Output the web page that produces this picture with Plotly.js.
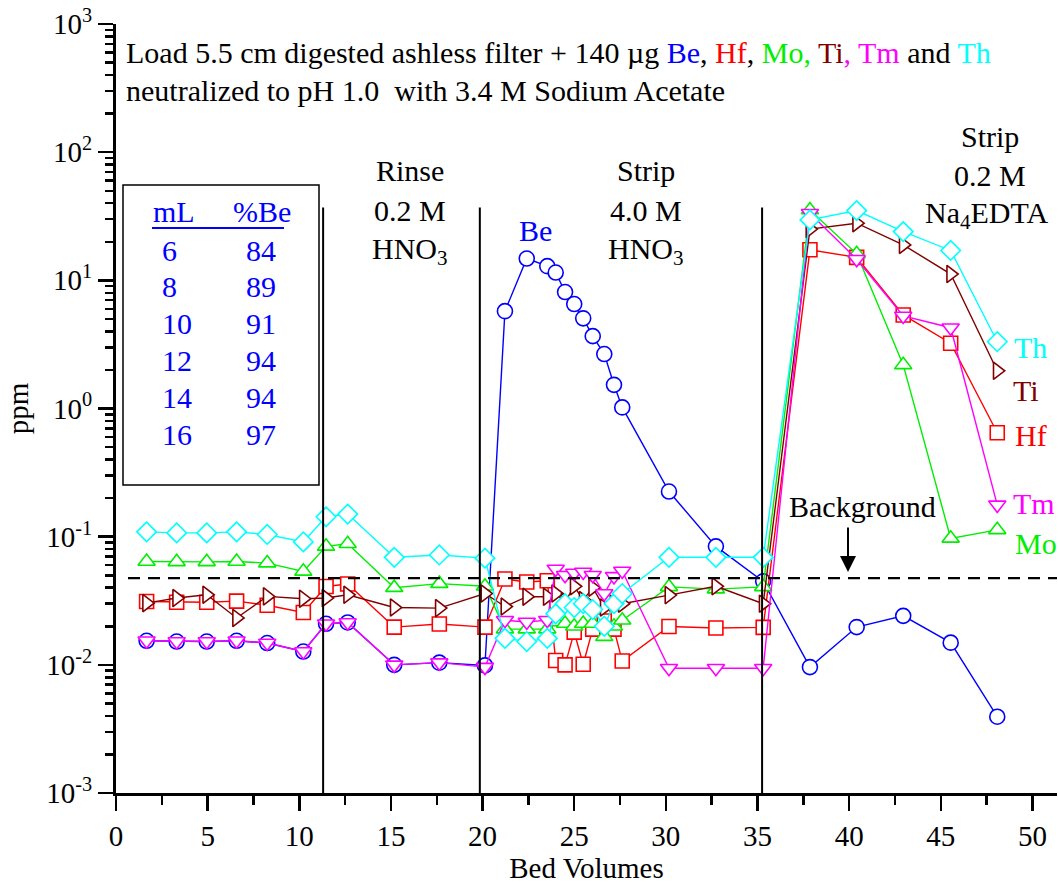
<!DOCTYPE html>
<html><head><meta charset="utf-8">
<script src="https://cdn.plot.ly/plotly-3.0.1.min.js"></script>
<style>html,body{margin:0;padding:0;background:#fff}#chart{width:1058px;height:884px}</style>
</head><body><div id="chart"></div>
<script>
// ---- data ----
const bedVolumes = [1.67, 3.31, 4.95, 6.58, 8.25, 10.22, 11.46, 12.64, 15.18, 17.64, 20.13,
  21.22, 22.41, 23.53, 23.99, 24.50, 25.00, 25.49, 26.01, 26.64, 27.17, 27.62,
  30.17, 32.73, 35.31, 37.86, 40.41, 42.95, 45.54, 48.08];
const be = [0.0154, 0.0152, 0.0152, 0.0154, 0.0148, 0.0127, 0.0209, 0.0214, 0.0100, 0.0104, 0.0099,
  5.75, 14.8, 12.9, 11.5, 8.1, 6.53, 5.05, 3.67, 2.66, 1.53, 1.02,
  0.225, 0.084, 0.0448, 0.0096, 0.0197, 0.0241, 0.0149, 0.00394];
const hf = [0.0312, 0.0308, 0.0308, 0.0314, 0.0292, 0.0256, 0.0409, 0.0427, 0.0197, 0.0208, 0.0197,
  0.0467, 0.0443, 0.0453, 0.0108, 0.0100, 0.0180, 0.0101, 0.0190, 0.0220, 0.0190, 0.0107,
  0.0199, 0.0194, 0.0196, 17.3, 15.1, 5.37, 3.23, 0.647];
const mo = [0.0640, 0.0636, 0.0636, 0.0640, 0.0622, 0.0536, 0.0840, 0.0880, 0.0400, 0.0430, 0.0410,
  0.0190, 0.0190, 0.0190, 0.0216, 0.0210, 0.0200, 0.0210, 0.0210, 0.0166, 0.0200, 0.0223,
  0.0406, 0.0390, 0.0406, 35.4, 16.1, 2.19, 0.097, 0.113];
const ti = [0.0303, 0.0332, 0.0352, 0.0232, 0.0342, 0.0328, 0.0332, 0.0352, 0.0280, 0.0277, 0.0360,
  0.0285, 0.0340, 0.0340, 0.0360, 0.0310, 0.0410, 0.0320, 0.0400, 0.0280, 0.0300, 0.0300,
  0.0350, 0.0410, 0.0300, 25.1, 27.9, 18.9, 11.2, 1.97];
const tm = [0.0154, 0.0152, 0.0152, 0.0154, 0.0148, 0.0127, 0.0209, 0.0214, 0.0100, 0.0104, 0.0096,
  0.0223, 0.0216, 0.0223, 0.0560, 0.0500, 0.0520, 0.0530, 0.0500, 0.0360, 0.0490, 0.0540,
  0.0094, 0.0094, 0.0094, 33.4, 14.6, 5.27, 4.27, 0.177];
const th = [0.109, 0.107, 0.107, 0.109, 0.104, 0.091, 0.143, 0.150, 0.069, 0.072, 0.068,
  0.0161, 0.0152, 0.0161, 0.0250, 0.0300, 0.0280, 0.0300, 0.0270, 0.0200, 0.0300, 0.0360,
  0.069, 0.069, 0.069, 29.6, 35.0, 24.0, 17.1, 3.32];
const seriesNames = ['Be', 'Hf', 'Mo', 'Ti', 'Tm', 'Th'];
const seriesValues = [be, hf, mo, ti, tm, th];
const xTickVals = [0, 5, 10, 15, 20, 25, 30, 35, 40, 45, 50];
const yTickVals = [0.001, 0.01, 0.1, 1, 10, 100, 1000];
const yTickText = ['10<sup>-3</sup>', '10<sup>-2</sup>', '10<sup>-1</sup>', '10<sup>0</sup>', '10<sup>1</sup>', '10<sup>2</sup>', '10<sup>3</sup>'];
const regionBoundaries = [11.3, 19.85, 35.25];
const boundaryTop = 37;
const backgroundLevel = 0.0475;
const tableML = [6, 8, 10, 12, 14, 16];
const tablePctBe = [84, 89, 91, 94, 94, 97];

// ---- styles ----
const colors = {Be:'#0000ff', Hf:'#ff0000', Mo:'#00ee00', Ti:'#800000', Tm:'#ff00ff', Th:'#00ffff'};
const symbols = {Be:'circle', Hf:'square', Mo:'triangle-up', Ti:'triangle-right', Tm:'triangle-down', Th:'diamond'};
const sizes = {Be:15, Hf:14, Mo:15, Ti:15, Tm:15, Th:15};
const FONT = 'Liberation Serif, Times New Roman, serif';
const FS = 30;   // annotation text
const TFS = 29;  // axis ticks and titles

const traces = seriesNames.map((n, i) => ({
  type: 'scatter', mode: 'lines+markers', name: n,
  x: bedVolumes, y: seriesValues[i],
  line: {color: colors[n], width: 1.4},
  marker: {symbol: symbols[n], size: sizes[n], color: 'rgba(255,255,255,1)', line: {color: colors[n], width: 1.6}},
  cliponaxis: false
}));

// pixel helpers for annotation placement
const L = 116, R = 1057, T = 24, B = 793;
const px = v => (v - L) / (R - L);
const py = v => (B - v) / (B - T);
function lab(text, x, y, color, xanchor) {
  return {xref:'paper', yref:'paper', x: px(x), y: py(y), text: text, showarrow:false,
    xanchor: xanchor || 'center', yanchor:'middle', font:{family:FONT, size:FS, color: color || '#000'}};
}

const annotations = [
  lab('Load 5.5 cm digested ashless filter + 140 \u00b5g <span style="color:#0000ff">Be</span>, <span style="color:#ff0000">Hf</span>, <span style="color:#00ee00">Mo,</span><span style="color:#800000"> Ti</span><span style="color:#ff00ff">, Tm</span> and <span style="color:#00ffff">Th</span>', 124, 52, '#000', 'left'),
  lab('neutralized to pH 1.0 \u00a0with 3.4 M Sodium Acetate', 124, 91, '#000', 'left'),
  lab('Rinse', 410, 171), lab('0.2 M', 410, 210), lab('HNO<sub>3</sub>', 410, 251),
  lab('Strip', 646, 171), lab('4.0 M', 646, 210), lab('HNO<sub>3</sub>', 646, 251),
  lab('Strip', 990, 137), lab('0.2 M', 990, 175), lab('Na<sub>4</sub>EDTA', 986, 215),
  lab('Be', 535, 231, colors.Be),
  lab('Th', 1030, 347, colors.Th), lab('Ti', 1026, 390, colors.Ti), lab('Hf', 1031, 435, colors.Hf),
  lab('Tm', 1034, 503, colors.Tm), lab('Mo', 1036, 543, colors.Mo),
  lab('Background', 862, 506),
  {xref:'paper', yref:'paper', x: px(848), y: py(572), ax: 0, ay: -46, text: '', showarrow: true,
   arrowhead: 2, arrowsize: 1.6, arrowwidth: 2, arrowcolor: '#000'},
  lab('mL', 174, 212, colors.Be), lab('%Be', 262, 212, colors.Be)
];
tableML.forEach((m, i) => {
  annotations.push(lab(String(m), 160, 250 + i * 36.8, colors.Be, 'left'));
  annotations.push(lab(String(tablePctBe[i]), 244, 250 + i * 36.8, colors.Be, 'left'));
});

const shapes = regionBoundaries.map(b => ({type:'line', xref:'x', yref:'y', x0:b, x1:b, y0:0.001, y1:boundaryTop,
  line:{color:'#000', width:2}, layer:'above'}));
shapes.push({type:'line', xref:'paper', yref:'y', x0: px(128), x1: 1, y0: backgroundLevel, y1: backgroundLevel,
  line:{color:'#000', width:2.2, dash:'12px,8px'}, layer:'above'});
shapes.push({type:'rect', xref:'paper', yref:'paper', x0: px(123), x1: px(319), y0: py(485), y1: py(185),
  line:{color:'#000', width:1.5}, fillcolor:'rgba(0,0,0,0)', layer:'above'});
shapes.push({type:'line', xref:'paper', yref:'paper', x0: px(152), x1: px(284), y0: py(228), y1: py(228),
  line:{color:colors.Be, width:2}, layer:'above'});

const xRange = [0, 51.34];
const yRange = [-3, 3];
const layout = {
  width: 1058, height: 884,
  margin: {l: L, r: 1058 - R, t: T, b: 884 - B},
  paper_bgcolor: '#fff', plot_bgcolor: '#fff',
  showlegend: false,
  font: {family: FONT, size: TFS, color: '#000'},
  xaxis: {range: xRange, tickvals: xTickVals, ticks: 'outside', ticklen: 15, tickwidth: 2.5, tickcolor: '#000',
    showline: true, linewidth: 3, linecolor: '#000', showgrid: false, zeroline: false,
    tickfont: {family: FONT, size: TFS, color: '#000'},
    minor: {dtick: 2.5, ticks: 'outside', ticklen: 9, tickwidth: 2.5, tickcolor: '#000', showgrid: false},
    title: {text: 'Bed Volumes', font: {family: FONT, size: TFS, color: '#000'}, standoff: 8}},
  yaxis: {type: 'log', range: yRange, tickvals: yTickVals, ticktext: yTickText, ticks: 'outside', ticklen: 15, tickwidth: 2.5, tickcolor: '#000',
    showline: true, linewidth: 3, linecolor: '#000', showgrid: false, zeroline: false,
    tickfont: {family: FONT, size: TFS, color: '#000'},
    minor: {dtick: 'D1', ticks: 'outside', ticklen: 8, tickwidth: 2.5, tickcolor: '#000', showgrid: false},
    title: {text: 'ppm', font: {family: FONT, size: TFS, color: '#000'}, standoff: 10}},
  xaxis2: {overlaying: 'x', side: 'top', anchor: 'y', range: xRange, tickvals: xTickVals, ticks: 'inside', ticklen: 15, tickwidth: 2.5,
    tickcolor: '#000', showticklabels: false, showline: true, linewidth: 3, linecolor: '#000', showgrid: false, zeroline: false,
    minor: {dtick: 2.5, ticks: 'inside', ticklen: 9, tickwidth: 2.5, tickcolor: '#000', showgrid: false}},
  yaxis2: {overlaying: 'y', side: 'right', anchor: 'x', type: 'log', range: yRange, tickvals: yTickVals, ticks: 'inside', ticklen: 15, tickwidth: 2.5,
    tickcolor: '#000', showticklabels: false, showline: true, linewidth: 3, linecolor: '#000', showgrid: false, zeroline: false,
    minor: {dtick: 'D1', ticks: 'inside', ticklen: 8, tickwidth: 2.5, tickcolor: '#000', showgrid: false}},
  annotations: annotations,
  shapes: shapes
};
Plotly.newPlot('chart', traces, layout, {staticPlot: true, displayModeBar: false});
</script></body></html>
